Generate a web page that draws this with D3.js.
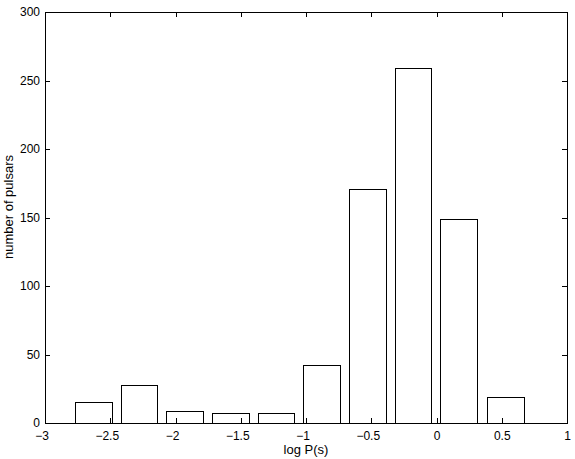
<!DOCTYPE html>
<html>
<head>
<meta charset="utf-8">
<script src="https://cdn.jsdelivr.net/npm/d3@7"></script>
<style>
  body { margin: 0; background: #fff; }
  svg { display: block; font-family: "Liberation Sans", Arial, Helvetica, sans-serif; }
  .axis path, .axis line { stroke: #000; }
  .axis text { fill: #000; font-size: 12px; }
</style>
</head>
<body>
<div id="chart"></div>
<script>
// histogram of pulsar periods
const binCenters = [-2.63, -2.28, -1.93, -1.58, -1.23, -0.88, -0.53, -0.18, 0.17, 0.53]
const counts = [15, 28, 9, 7, 7, 42, 171, 259, 149, 19]
const xTicks = [-3, -2.5, -2, -1.5, -1, -0.5, 0, 0.5, 1]
const yTicks = [0, 50, 100, 150, 200, 250, 300]

const W = 575
const H = 459
const margin = { top: 12, right: 8, bottom: 36, left: 45 }
const width = W - margin.left - margin.right
const height = H - margin.top - margin.bottom

const svg = d3.select('#chart').append('svg')
  .attr('width', W)
  .attr('height', H)

const g = svg.append('g')
  .attr('transform', 'translate(' + margin.left + ',' + margin.top + ')')

const x = d3.scaleLinear().domain([-3, 1]).range([0, width])
const y = d3.scaleLinear().domain([0, 300]).range([height, 0])

// bars are 80% of the bin spacing, like matlab's hist
const binStep = (binCenters[binCenters.length - 1] - binCenters[0]) / (binCenters.length - 1)
const barW = binStep * 0.8

g.selectAll('.bar')
  .data(binCenters.map((c, i) => ({ c: c, n: counts[i] })))
  .join('rect')
  .attr('class', 'bar')
  .attr('x', d => Math.round(x(d.c - barW / 2)) + 0.5)
  .attr('y', d => Math.round(y(d.n)) + 0.5)
  .attr('width', d => Math.round(x(d.c + barW / 2)) - Math.round(x(d.c - barW / 2)))
  .attr('height', d => Math.round(y(0)) - Math.round(y(d.n)))
  .attr('fill', '#fff')
  .attr('stroke', '#000')
  .attr('stroke-width', 1)

const fmt = d3.format('')

// ticks point inward on all four sides
const xAxis = g.append('g')
  .attr('class', 'x axis')
  .attr('transform', 'translate(0,' + height + ')')
  .call(d3.axisBottom(x).tickValues(xTicks).tickFormat(fmt)
    .tickSizeInner(-5).tickSizeOuter(0).tickPadding(8))

g.append('g')
  .attr('class', 'axis')
  .call(d3.axisTop(x).tickValues(xTicks).tickFormat('')
    .tickSizeInner(-5).tickSizeOuter(0))

g.append('g')
  .attr('class', 'y axis')
  .call(d3.axisLeft(y).tickValues(yTicks).tickFormat(fmt)
    .tickSizeInner(-5).tickSizeOuter(0).tickPadding(5))

g.append('g')
  .attr('class', 'axis')
  .attr('transform', 'translate(' + width + ',0)')
  .call(d3.axisRight(y).tickValues(yTicks).tickFormat('')
    .tickSizeInner(-5).tickSizeOuter(0))

// keep the number centred on the tick, the minus hangs to the left
xAxis.selectAll('text').each(function () {
  const t = d3.select(this)
  if (t.text().charAt(0) === '\u2212') {
    const w = this.getSubStringLength(0, 1)
    t.attr('dx', -w / 2)
  }
})

svg.selectAll('.axis path').attr('shape-rendering', 'crispEdges')
svg.selectAll('.axis line').attr('shape-rendering', 'crispEdges')

svg.append('text')
  .attr('x', margin.left + width / 2)
  .attr('y', 454)
  .attr('text-anchor', 'middle')
  .attr('font-size', 13)
  .text('log P(s)')

svg.append('text')
  .attr('transform', 'translate(12.5,207) rotate(-90)')
  .attr('text-anchor', 'middle')
  .attr('font-size', 13)
  .text('number of pulsars')
</script>
</body>
</html>
